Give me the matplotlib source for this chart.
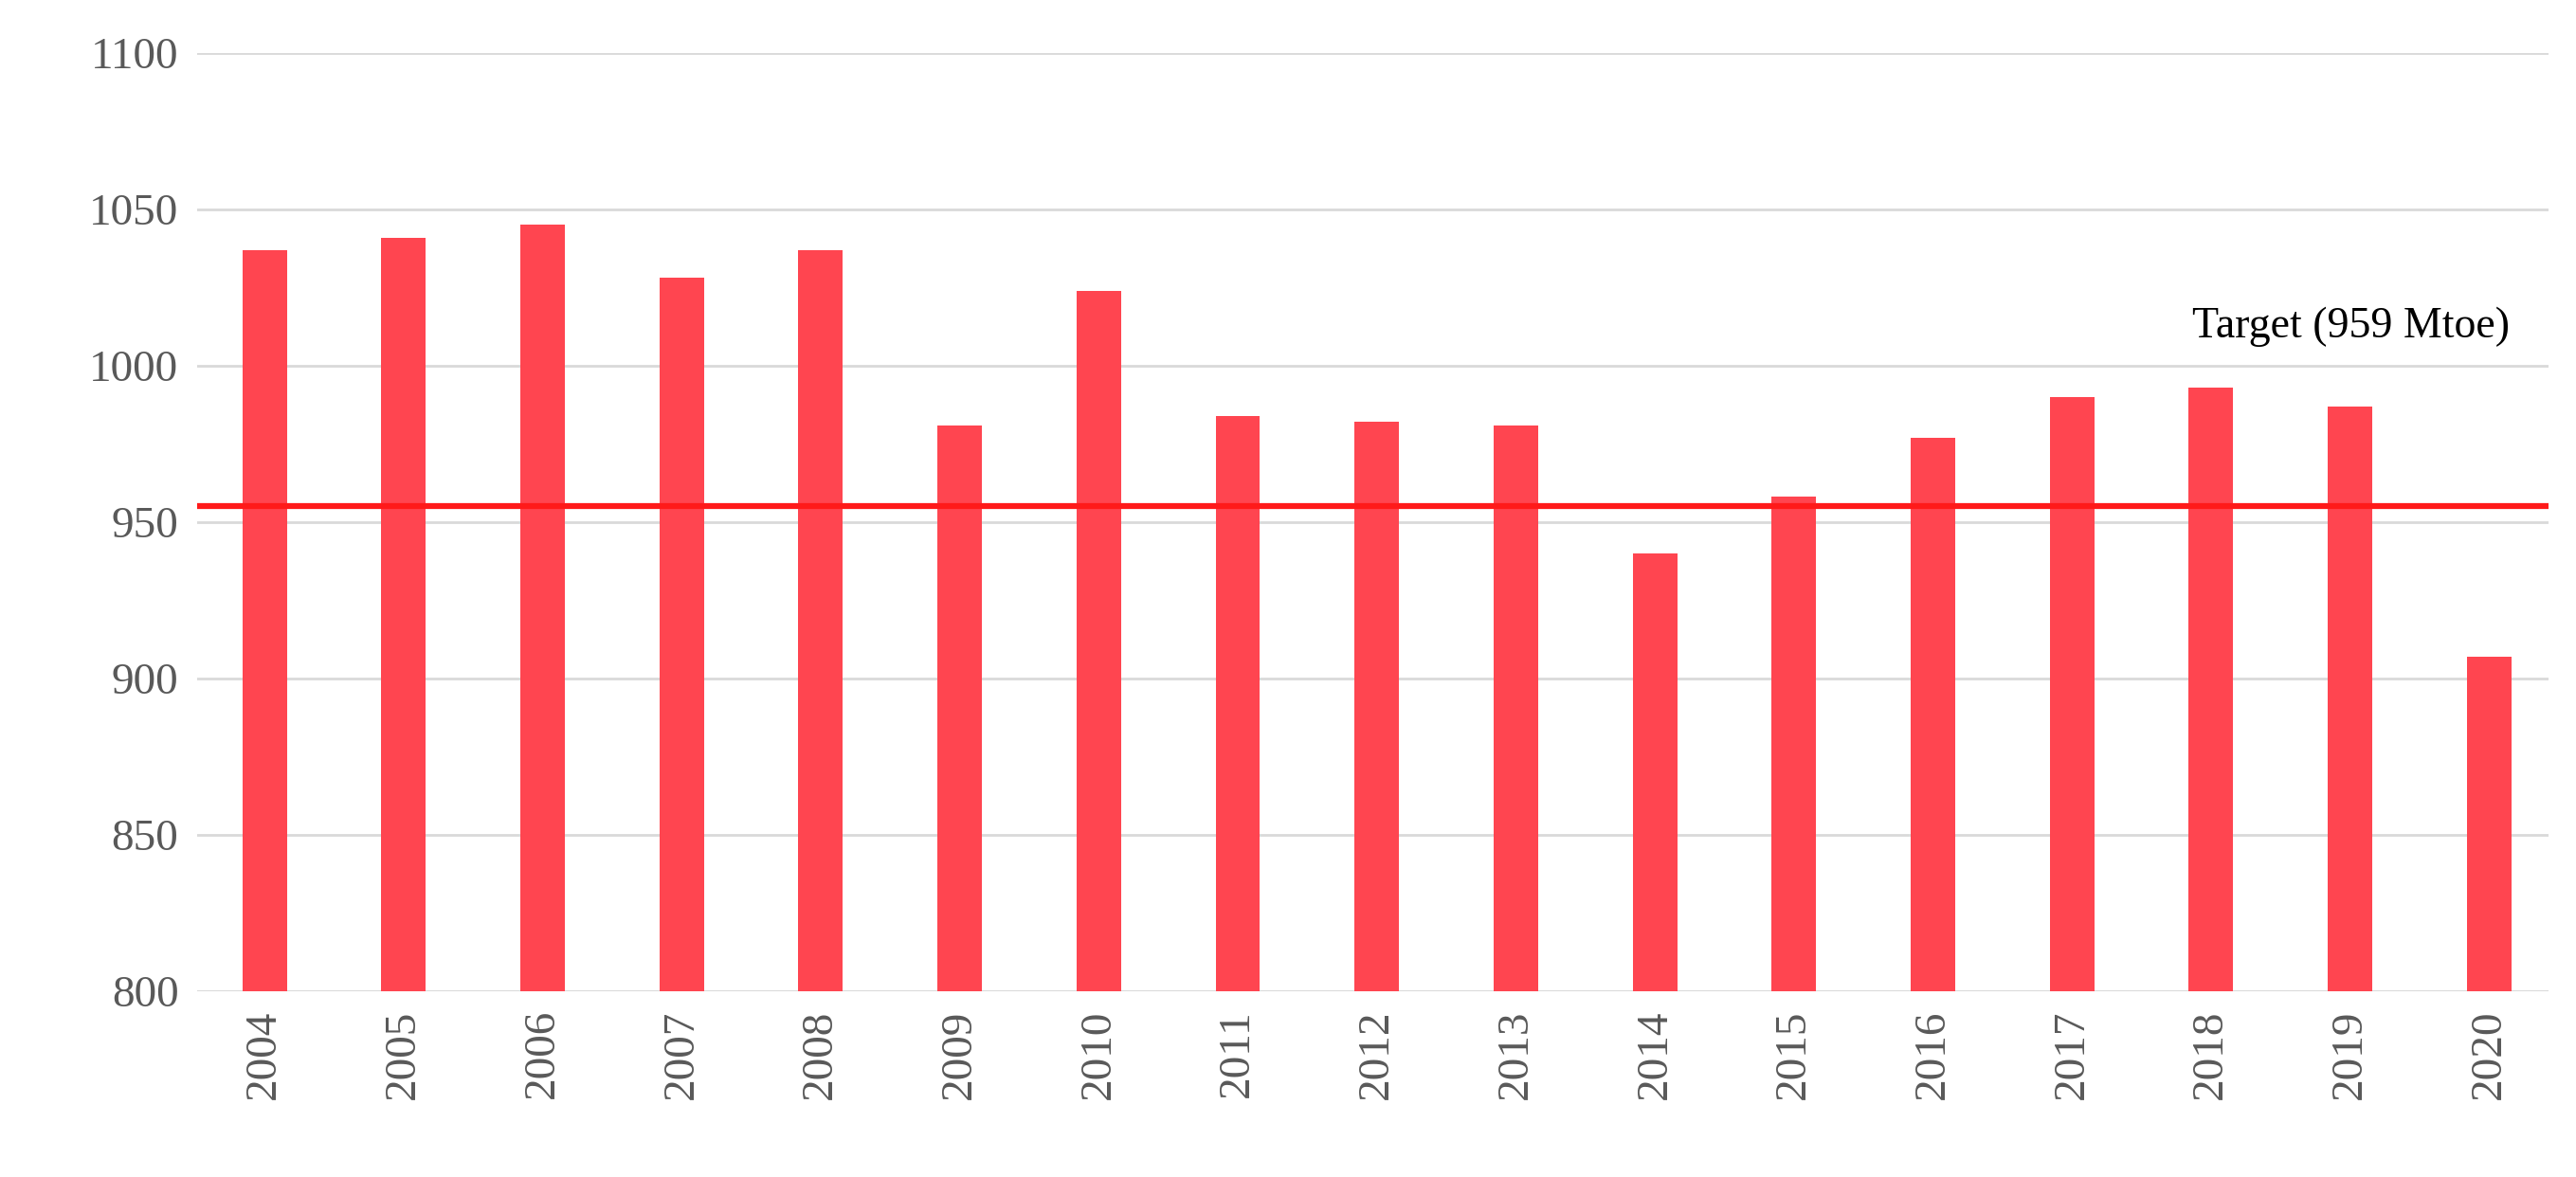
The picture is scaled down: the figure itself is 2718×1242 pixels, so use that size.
import matplotlib.pyplot as plt

years = [str(y) for y in range(2004, 2021)]
values = [1037, 1041, 1045, 1028, 1037, 981, 1024, 984, 982, 981, 940, 958, 977, 990, 993, 987, 907]
target_level = 955
target_label = "Target (959 Mtoe)"

plt.rcParams['font.family'] = ['Liberation Serif', 'DejaVu Serif']
fig = plt.figure(figsize=(27.18, 12.42), dpi=100)
ax = fig.add_axes([0.0765, 0.158, 0.913, 0.797])
x = list(range(len(years)))
ax.bar(x, values, width=0.32, color='#FF4550', zorder=2)
ax.axhline(target_level, color='#FF1A1A', lw=4.5, zorder=3)
ax.text(16.15, 1006, target_label, ha='right', va='bottom', fontsize=33, color='black')
ax.set_ylim(800, 1100)
ax.set_xlim(-0.485, 16.43)
ax.set_yticks(range(800, 1101, 50))
ax.grid(axis='y', color='#D9D9D9', lw=2, zorder=0)
ax.set_xticks(x)
ax.set_xticklabels(years, rotation=90)
ax.tick_params(axis='both', length=0, labelsize=34, labelcolor='#595959', pad=14)
for s in ax.spines.values():
    s.set_visible(False)
ax.axhline(800, color='#D9D9D9', lw=2, zorder=1)
fig.savefig('out.png', dpi=100)
